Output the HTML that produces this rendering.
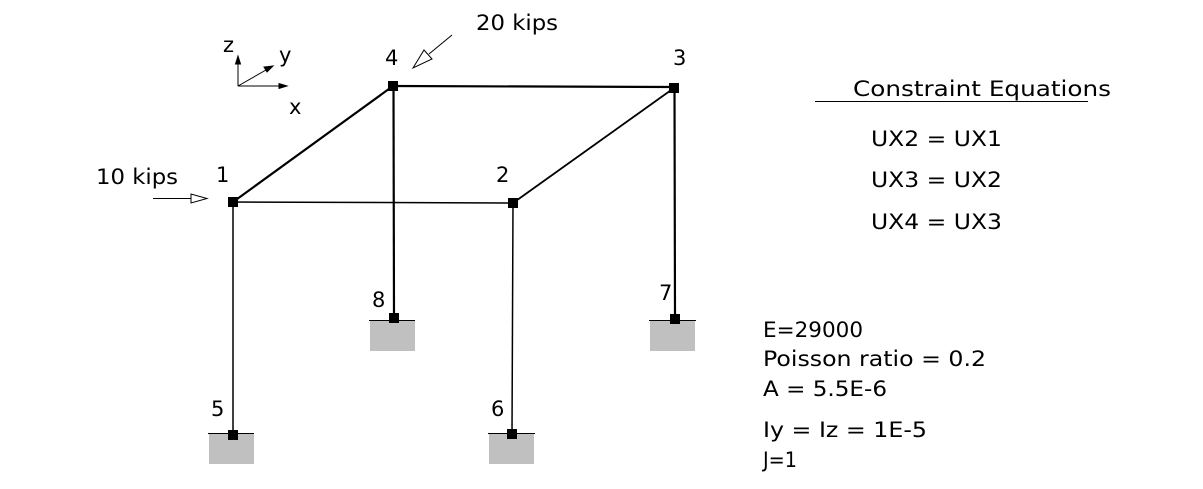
<!DOCTYPE html>
<html><head><style>
body{margin:0;background:#fff;}
svg text{font-family:"DejaVu Sans","Liberation Sans",sans-serif;font-size:21px;fill:#000;}
</style></head><body>
<svg width="1203" height="484" viewBox="0 0 1203 484">
<g fill="#c0c0c0">
<rect x="209" y="434" width="45" height="30"/>
<rect x="370" y="321" width="45" height="30"/>
<rect x="489" y="434" width="45" height="30"/>
<rect x="650" y="321" width="45" height="30"/>
</g>
<g stroke="#000" stroke-width="1">
<line x1="208" y1="433.5" x2="254" y2="433.5"/>
<line x1="369" y1="320.5" x2="415" y2="320.5"/>
<line x1="488" y1="433.5" x2="535" y2="433.5"/>
<line x1="649" y1="320.5" x2="696" y2="320.5"/>
</g>
<g stroke="#000" fill="none">
<line x1="233" y1="202" x2="513" y2="203" stroke-width="1.5"/>
<line x1="233" y1="202" x2="393" y2="86" stroke-width="2.2"/>
<line x1="393" y1="86" x2="674" y2="87" stroke-width="2.2"/>
<line x1="513" y1="203" x2="674" y2="88" stroke-width="1.8"/>
<line x1="233" y1="202" x2="233" y2="435" stroke-width="1.5"/>
<line x1="513" y1="203" x2="512" y2="434" stroke-width="1.5"/>
<line x1="393.5" y1="86" x2="394" y2="318" stroke-width="2.2"/>
<line x1="674.5" y1="88" x2="675" y2="319" stroke-width="2.2"/>
</g>
<g fill="#000">
<rect x="228" y="197" width="10" height="10"/>
<rect x="508" y="198" width="10" height="10"/>
<rect x="388" y="81" width="10" height="10"/>
<rect x="669" y="83" width="10" height="10"/>
<rect x="228" y="430" width="10" height="10"/>
<rect x="507" y="429" width="10" height="10"/>
<rect x="389" y="313" width="10" height="10"/>
<rect x="670" y="314" width="10" height="10"/>
</g>
<g stroke="#000" stroke-width="1" fill="#000">
<line x1="238" y1="86" x2="238" y2="62"/>
<polygon points="238,56 235.5,64 240.5,64"/>
<line x1="238" y1="86" x2="281" y2="86"/>
<polygon points="287,86 279,83.5 279,88.5"/>
<line x1="238" y1="86" x2="266" y2="70"/>
<polygon points="273,66 264,67 267,72"/>
</g>
<g stroke="#000" stroke-width="1" fill="#fff">
<line x1="153" y1="198.5" x2="191" y2="198.5"/>
<polygon points="207,198.5 191,194 191,203"/>
<line x1="452" y1="35" x2="429" y2="54"/>
<polygon points="413,68 424,50 432,59"/>
</g>
<text x="223" y="52">z</text>
<text x="279" y="62">y</text>
<text x="289" y="114">x</text>
<text x="385" y="65">4</text>
<text x="673" y="65">3</text>
<text x="216" y="182">1</text>
<text x="496" y="182">2</text>
<text x="372" y="307">8</text>
<text x="659" y="300">7</text>
<text x="211" y="416">5</text>
<text x="491" y="416">6</text>
<g lengthAdjust="spacingAndGlyphs">
<text x="476" y="30" textLength="82" lengthAdjust="spacingAndGlyphs">20 kips</text>
<text x="96" y="184" textLength="82" lengthAdjust="spacingAndGlyphs">10 kips</text>
<text x="853" y="96" textLength="258" lengthAdjust="spacingAndGlyphs">Constraint Equations</text>
<text x="871" y="146" textLength="131" lengthAdjust="spacingAndGlyphs">UX2 = UX1</text>
<text x="871" y="187" textLength="131" lengthAdjust="spacingAndGlyphs">UX3 = UX2</text>
<text x="871" y="229" textLength="131" lengthAdjust="spacingAndGlyphs">UX4 = UX3</text>
<text x="763" y="337" textLength="100" lengthAdjust="spacingAndGlyphs">E=29000</text>
<text x="763" y="366" textLength="223" lengthAdjust="spacingAndGlyphs">Poisson ratio = 0.2</text>
<text x="763" y="396" textLength="124" lengthAdjust="spacingAndGlyphs">A = 5.5E-6</text>
<text x="763" y="437" textLength="164" lengthAdjust="spacingAndGlyphs">Iy = Iz = 1E-5</text>
<text x="763" y="467" textLength="34" lengthAdjust="spacingAndGlyphs">J=1</text>
</g>
<line x1="815" y1="101.5" x2="1088" y2="101.5" stroke="#000" stroke-width="1"/>
</svg>
</body></html>
